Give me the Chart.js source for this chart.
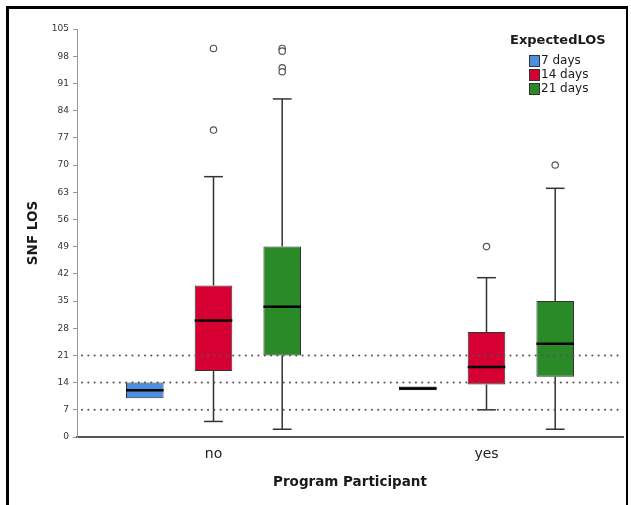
<!DOCTYPE html>
<html>
<head>
<meta charset="utf-8">
<script src="https://cdn.jsdelivr.net/npm/chart.js@4.4.1/dist/chart.umd.min.js"></script>
<style>
html, body { margin: 0; padding: 0; background: #fff; }
#wrap { position: relative; width: 631px; height: 505px; }
</style>
</head>
<body>
<div id="wrap"><canvas id="box" width="631" height="505"></canvas></div>
<script>
const groups = ['no', 'yes'];
const seriesNames = ['7 days', '14 days', '21 days'];
const seriesColors = ['#4a8fe0', '#d60032', '#2a8a27'];
const yTicks = [0, 7, 14, 21, 28, 35, 42, 49, 56, 63, 70, 77, 84, 91, 98, 105];
const refLines = [7, 14, 21];
const legendTitle = 'ExpectedLOS';

// one value per group: [no, yes]
const lo7 = [10, 12], q1_7 = [10, 12], med7 = [12, 12.5], q3_7 = [14, 13], hi7 = [14, 13];
const lo14 = [4, 7], q1_14 = [17, 13.5], med14 = [30, 18], q3_14 = [39, 27], hi14 = [67, 41];
const lo21 = [2, 2], q1_21 = [21, 15.5], med21 = [33.5, 24], q3_21 = [49, 35], hi21 = [87, 64];
const out7 = [[], []];
const out14 = [[100, 79], [49]];
const out21 = [[100, 99.3, 95, 94], [70]];

const stats = [
    { lo: lo7, q1: q1_7, med: med7, q3: q3_7, hi: hi7, out: out7 },
    { lo: lo14, q1: q1_14, med: med14, q3: q3_14, hi: hi14, out: out14 },
    { lo: lo21, q1: q1_21, med: med21, q3: q3_21, hi: hi21, out: out21 }
];

const FONT = "'DejaVu Sans', sans-serif";

function line(ctx, x1, y1, x2, y2) {
    ctx.beginPath();
    ctx.moveTo(x1, y1);
    ctx.lineTo(x2, y2);
    ctx.stroke();
}

const framePlugin = {
    id: 'frame',
    beforeDraw(chart) {
        const ctx = chart.ctx;
        ctx.save();
        ctx.fillStyle = '#fff';
        ctx.fillRect(0, 0, chart.width, chart.height);
        ctx.strokeStyle = '#000';
        ctx.lineWidth = 3;
        line(ctx, 6, 7.5, 628, 7.5);
        line(ctx, 7.5, 6, 7.5, 505);
        ctx.lineWidth = 2;
        line(ctx, 627, 6, 627, 505);
        ctx.restore();
    }
};

const boxPlugin = {
    id: 'boxExtras',
    afterDatasetsDraw(chart) {
        const ctx = chart.ctx;
        const y = chart.scales.y;
        const ca = chart.chartArea;
        ctx.save();
        chart.data.datasets.forEach((ds, s) => {
            const st = stats[s];
            chart.getDatasetMeta(s).data.forEach((bar, i) => {
                const x = bar.x, w = bar.width;
                ctx.strokeStyle = '#333';
                ctx.lineWidth = 1.5;
                if (st.hi[i] > st.q3[i]) {
                    line(ctx, x, y.getPixelForValue(st.q3[i]), x, y.getPixelForValue(st.hi[i]));
                    line(ctx, x - w / 4, y.getPixelForValue(st.hi[i]), x + w / 4, y.getPixelForValue(st.hi[i]));
                }
                if (st.lo[i] < st.q1[i]) {
                    line(ctx, x, y.getPixelForValue(st.q1[i]), x, y.getPixelForValue(st.lo[i]));
                    line(ctx, x - w / 4, y.getPixelForValue(st.lo[i]), x + w / 4, y.getPixelForValue(st.lo[i]));
                }
                ctx.strokeStyle = '#000';
                ctx.lineWidth = 2.5;
                line(ctx, x - w / 2, y.getPixelForValue(st.med[i]), x + w / 2, y.getPixelForValue(st.med[i]));
                ctx.strokeStyle = '#555';
                ctx.lineWidth = 1.2;
                ctx.fillStyle = '#fff';
                st.out[i].forEach(v => {
                    ctx.beginPath();
                    ctx.arc(x, y.getPixelForValue(v), 3.2, 0, Math.PI * 2);
                    ctx.fill();
                    ctx.stroke();
                });
            });
        });
        // dotted reference lines
        ctx.strokeStyle = '#555';
        ctx.lineWidth = 2;
        ctx.lineCap = 'round';
        ctx.setLineDash([0.1, 6.2]);
        refLines.forEach(v => {
            const py = y.getPixelForValue(v);
            line(ctx, ca.left + 5, py, ca.right, py);
        });
        ctx.restore();
    },
    afterDraw(chart) {
        const ctx = chart.ctx;
        ctx.save();
        ctx.fillStyle = '#1a1a1a';
        ctx.textAlign = 'left';
        ctx.textBaseline = 'middle';
        ctx.font = 'bold 13px ' + FONT;
        ctx.fillText(legendTitle, 510, 41);
        ctx.font = '12px ' + FONT;
        chart.data.datasets.forEach((ds, s) => {
            const top = 55 + s * 14;
            ctx.fillStyle = ds.backgroundColor;
            ctx.fillRect(529, top, 10, 11);
            ctx.strokeStyle = '#333';
            ctx.lineWidth = 1;
            ctx.strokeRect(529.5, top + 0.5, 10, 11);
            ctx.fillStyle = '#1a1a1a';
            ctx.fillText(ds.label, 541, top + 6);
        });
        ctx.restore();
    }
};

new Chart(document.getElementById('box'), {
    type: 'bar',
    data: {
        labels: groups,
        datasets: seriesNames.map((name, s) => ({
            label: name,
            data: groups.map((g, i) => [stats[s].q1[i], stats[s].q3[i]]),
            backgroundColor: seriesColors[s],
            borderColor: '#333',
            borderWidth: 1,
            borderSkipped: false,
            categoryPercentage: 0.755,
            barPercentage: 0.547
        }))
    },
    options: {
        responsive: false,
        animation: false,
        devicePixelRatio: 1,
        layout: { padding: { left: 0, right: 8, top: 29, bottom: 0 } },
        plugins: {
            legend: { display: false },
            tooltip: { enabled: false }
        },
        scales: {
            x: {
                afterFit: s => { s.height = 68; },
                grid: { display: false },
                border: { display: true, color: '#555', width: 2 },
                ticks: { font: { family: FONT, size: 14 }, color: '#222', padding: 1 },
                title: {
                    display: true, text: 'Program Participant', color: '#1a1a1a',
                    font: { family: FONT, size: 13.5, weight: 'bold' }, padding: { top: 0, bottom: 14 }
                }
            },
            y: {
                min: 0, max: 105,
                afterFit: s => { s.width = 77; },
                afterBuildTicks: s => { s.ticks = yTicks.map(v => ({ value: v })); },
                grid: { display: true, drawOnChartArea: false, drawTicks: true, tickLength: 4, color: '#999' },
                border: { display: true, color: '#999', width: 1 },
                ticks: { font: { family: FONT, size: 9 }, color: '#333', padding: 4, autoSkip: false },
                title: {
                    display: true, text: 'SNF LOS', color: '#1a1a1a',
                    font: { family: FONT, size: 13.5, weight: 'bold' }, padding: { top: 25, bottom: 0 }
                }
            }
        }
    },
    plugins: [framePlugin, boxPlugin]
});
</script>
</body>
</html>
